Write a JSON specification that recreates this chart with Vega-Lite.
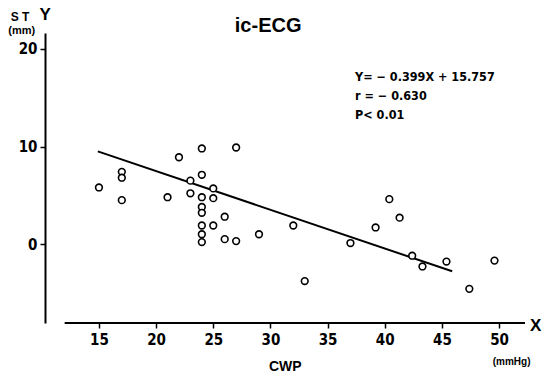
{
  "$schema": "https://vega.github.io/schema/vega-lite/v6.json",
  "autosize": {"type": "none"},
  "width": 480,
  "height": 290,
  "padding": {"left": 45, "top": 33, "right": 23, "bottom": 56},
  "background": "white",
  "config": {
    "view": {"stroke": null},
    "font": "Liberation Sans Narrow, DejaVu Sans Condensed, sans-serif",
    "axis": {"grid": false}
  },
  "datasets": {
    "pts": [
      {"cwp": 15, "st": 5.8},
      {"cwp": 17, "st": 7.4},
      {"cwp": 17, "st": 6.8},
      {"cwp": 17, "st": 4.5},
      {"cwp": 21, "st": 4.8},
      {"cwp": 22, "st": 8.9},
      {"cwp": 24, "st": 9.8},
      {"cwp": 27, "st": 9.9},
      {"cwp": 23, "st": 6.5},
      {"cwp": 24, "st": 7.1},
      {"cwp": 25, "st": 5.7},
      {"cwp": 23, "st": 5.2},
      {"cwp": 24, "st": 4.8},
      {"cwp": 25, "st": 4.7},
      {"cwp": 24, "st": 3.8},
      {"cwp": 24, "st": 3.2},
      {"cwp": 26, "st": 2.8},
      {"cwp": 24, "st": 1.9},
      {"cwp": 25, "st": 1.9},
      {"cwp": 29, "st": 1.0},
      {"cwp": 32, "st": 1.9},
      {"cwp": 24, "st": 1.0},
      {"cwp": 24, "st": 0.2},
      {"cwp": 26, "st": 0.5},
      {"cwp": 27, "st": 0.3},
      {"cwp": 37, "st": 0.1},
      {"cwp": 33, "st": -3.8},
      {"cwp": 39.2, "st": 1.7},
      {"cwp": 40.4, "st": 4.6},
      {"cwp": 41.3, "st": 2.7},
      {"cwp": 42.4, "st": -1.2},
      {"cwp": 43.3, "st": -2.3},
      {"cwp": 45.4, "st": -1.8},
      {"cwp": 49.6, "st": -1.7},
      {"cwp": 47.4, "st": -4.6}
    ],
    "fit": [
      {"cwp": 14.9, "st": 9.5},
      {"cwp": 45.9, "st": -2.8}
    ],
    "xaxis": [
      {"cwp": 12.0, "cwp2": 52.27, "st": -8.1}
    ]
  },
  "layer": [
    {
      "data": {"name": "xaxis"},
      "mark": {"type": "rule", "color": "black", "strokeWidth": 2},
      "encoding": {
        "x": {"field": "cwp", "type": "quantitative",
          "scale": {"domain": [10.28, 52.27], "nice": false, "zero": false},
          "axis": {"domain": false, "values": [15, 20, 25, 30, 35, 40, 45, 50], "tickColor": "black", "tickWidth": 1.5, "tickSize": 5, "labelFont": "Liberation Sans Narrow, DejaVu Sans Condensed, sans-serif", "labelFontSize": 15, "labelFontWeight": "bold", "labelColor": "black", "labelPadding": 4, "title": null}},
        "x2": {"field": "cwp2"},
        "y": {"field": "st", "type": "quantitative",
          "scale": {"domain": [-8.1, 21.64], "nice": false, "zero": false},
          "axis": {"values": [0, 10, 20], "domainColor": "black", "domainWidth": 2, "tickColor": "black", "tickWidth": 1.5, "tickSize": 5, "labelFont": "Liberation Sans Narrow, DejaVu Sans Condensed, sans-serif", "labelFontSize": 15, "labelFontWeight": "bold", "labelColor": "black", "labelPadding": 3, "title": null}}
      }
    },
    {
      "data": {"name": "fit"},
      "mark": {"type": "line", "color": "black", "strokeWidth": 2},
      "encoding": {
        "x": {"field": "cwp", "type": "quantitative"},
        "y": {"field": "st", "type": "quantitative"}
      }
    },
    {
      "data": {"name": "pts"},
      "mark": {"type": "point", "shape": "circle", "filled": false, "fill": "white", "fillOpacity": 1, "stroke": "black", "strokeWidth": 1.6, "opacity": 1, "size": 45},
      "encoding": {
        "x": {"field": "cwp", "type": "quantitative"},
        "y": {"field": "st", "type": "quantitative"}
      }
    },
    {
      "data": {"values": [{}]},
      "layer": [
        {"mark": {"type": "text", "text": "ic-ECG", "fontSize": 20, "fontWeight": "bold", "font": "Liberation Sans, Arial, sans-serif", "align": "center", "baseline": "middle", "clip": false},
          "encoding": {"x": {"datum": 29.8}, "y": {"datum": 22.4}}},
        {"mark": {"type": "text", "text": "Y", "fontSize": 17, "fontWeight": "bold", "font": "Liberation Sans, Arial, sans-serif", "align": "center", "baseline": "middle"},
          "encoding": {"x": {"datum": 10.3}, "y": {"datum": 23.5}}},
        {"mark": {"type": "text", "text": "S T", "fontSize": 12, "fontWeight": "bold", "font": "Liberation Sans, Arial, sans-serif", "align": "center", "baseline": "middle"},
          "encoding": {"x": {"datum": 8.1}, "y": {"datum": 23.25}}},
        {"mark": {"type": "text", "text": "(mm)", "fontSize": 11, "fontWeight": "bold", "font": "Liberation Sans, Arial, sans-serif", "align": "center", "baseline": "middle"},
          "encoding": {"x": {"datum": 8.25}, "y": {"datum": 21.8}}},
        {"mark": {"type": "text", "text": "X", "fontSize": 17, "fontWeight": "bold", "font": "Liberation Sans, Arial, sans-serif", "align": "center", "baseline": "middle"},
          "encoding": {"x": {"datum": 53.2}, "y": {"datum": -8.4}}},
        {"mark": {"type": "text", "text": "(mmHg)", "fontSize": 10, "fontWeight": "bold", "font": "Liberation Sans, Arial, sans-serif", "align": "center", "baseline": "middle"},
          "encoding": {"x": {"datum": 51.1}, "y": {"datum": -12.1}}},
        {"mark": {"type": "text", "text": "CWP", "fontSize": 14, "fontWeight": "bold", "font": "Liberation Sans, Arial, sans-serif", "align": "center", "baseline": "middle"},
          "encoding": {"x": {"datum": 31.3}, "y": {"datum": -12.6}}},
        {"mark": {"type": "text", "text": "Y= − 0.399X + 15.757", "fontSize": 12.5, "fontWeight": "bold", "align": "left", "baseline": "middle"},
          "encoding": {"x": {"datum": 37.4}, "y": {"datum": 17.1}}},
        {"mark": {"type": "text", "text": "r = − 0.630", "fontSize": 12.5, "fontWeight": "bold", "align": "left", "baseline": "middle"},
          "encoding": {"x": {"datum": 37.4}, "y": {"datum": 15.2}}},
        {"mark": {"type": "text", "text": "P< 0.01", "fontSize": 12.5, "fontWeight": "bold", "align": "left", "baseline": "middle"},
          "encoding": {"x": {"datum": 37.4}, "y": {"datum": 13.2}}}
      ]
    }
  ]
}
